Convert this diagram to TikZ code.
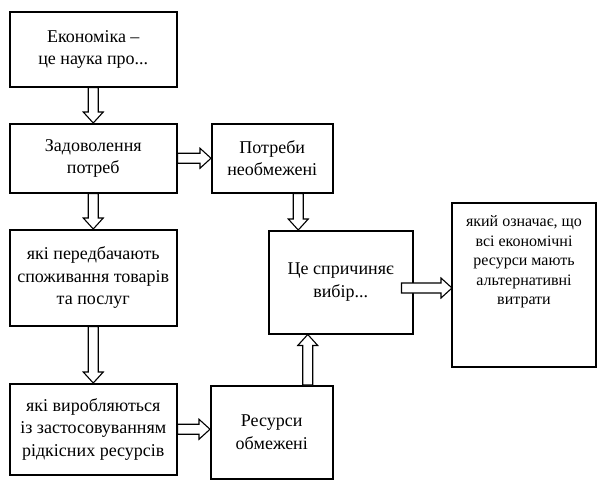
\documentclass[tikz,border=0pt]{standalone}
\usepackage{fontspec}
\setmainfont{Liberation Serif}
\usetikzlibrary{calc}

% hollow block arrow from #1 to #2
\newcommand{\bigarrow}[2]{%
  \draw[hollow] let \p1=(#1), \p2=(#2),
      \n1={veclen(\x2-\x1,\y2-\y1)}, \n2={atan2(\y2-\y1,\x2-\x1)} in
    [shift={(\p1)}, rotate=\n2]
    (0pt,5pt) -- ({\n1-11pt},5pt) -- ({\n1-11pt},10pt) -- ({\n1},0pt)
    -- ({\n1-11pt},-10pt) -- ({\n1-11pt},-5pt) -- (0pt,-5pt) -- cycle;
}

\begin{document}
\begin{tikzpicture}[x=1pt,y=-1pt,
    box/.style={draw, line width=1.5pt, anchor=north west, align=center,
      inner sep=2pt, font=\rmfamily\fontsize{18}{22.5}\selectfont},
    hollow/.style={draw, fill=white, line width=1.1pt, line join=miter}]
  \useasboundingbox (0,0) rectangle (597,480);

  \node[box, minimum width=167pt, minimum height=75pt] (econ) at (9,11) {Економіка --\\це наука про...};
  \node[box, minimum width=167pt, minimum height=69pt] (zad) at (9,123) {Задоволення\\потреб};
  \node[box, minimum width=121pt, minimum height=69pt] (potr) at (211,123) {Потреби\\необмежені};
  \node[box, minimum width=167pt, minimum height=96pt] (pered) at (9,229) {які передбачають\\споживання товарів\\та послуг};
  \node[box, minimum width=144pt, minimum height=103pt] (vyb) at (268,230) {Це спричиняє\\вибір...};
  \node[box, minimum width=167pt, minimum height=91pt] (vyrob) at (9,383) {які виробляються\\із застосовуванням\\рідкісних ресурсів};
  \node[box, minimum width=122pt, minimum height=93pt] (resu) at (210,385) {Ресурси\\обмежені};
  \draw[line width=1.5pt] (452,203) rectangle (596,367);
  \node[box, draw=none, anchor=north, font=\rmfamily\fontsize{16}{19.5}\selectfont] (altv) at (524,213)
    {який означає, що\\всі економічні\\ресурси мають\\альтернативні\\витрати};

  \coordinate (p1) at ([xshift=26pt]potr.south);
  \coordinate (p2) at (p1 |- vyb.north);
  \coordinate (r1) at ([xshift=36pt]resu.north);
  \coordinate (r2) at (r1 |- vyb.south);
  \coordinate (v2) at (452,288);
  \coordinate (v1) at ([xshift=-12pt]vyb.east |- v2);
  \coordinate (s2) at (vyrob.east -| resu.west);

  \bigarrow{econ.south}{zad.north}
  \bigarrow{zad.south}{pered.north}
  \bigarrow{pered.south}{vyrob.north}
  \bigarrow{zad.east}{potr.west}
  \bigarrow{p1}{p2}
  \bigarrow{vyrob.east}{s2}
  \bigarrow{r1}{r2}
  \bigarrow{v1}{v2}
\end{tikzpicture}
\end{document}
